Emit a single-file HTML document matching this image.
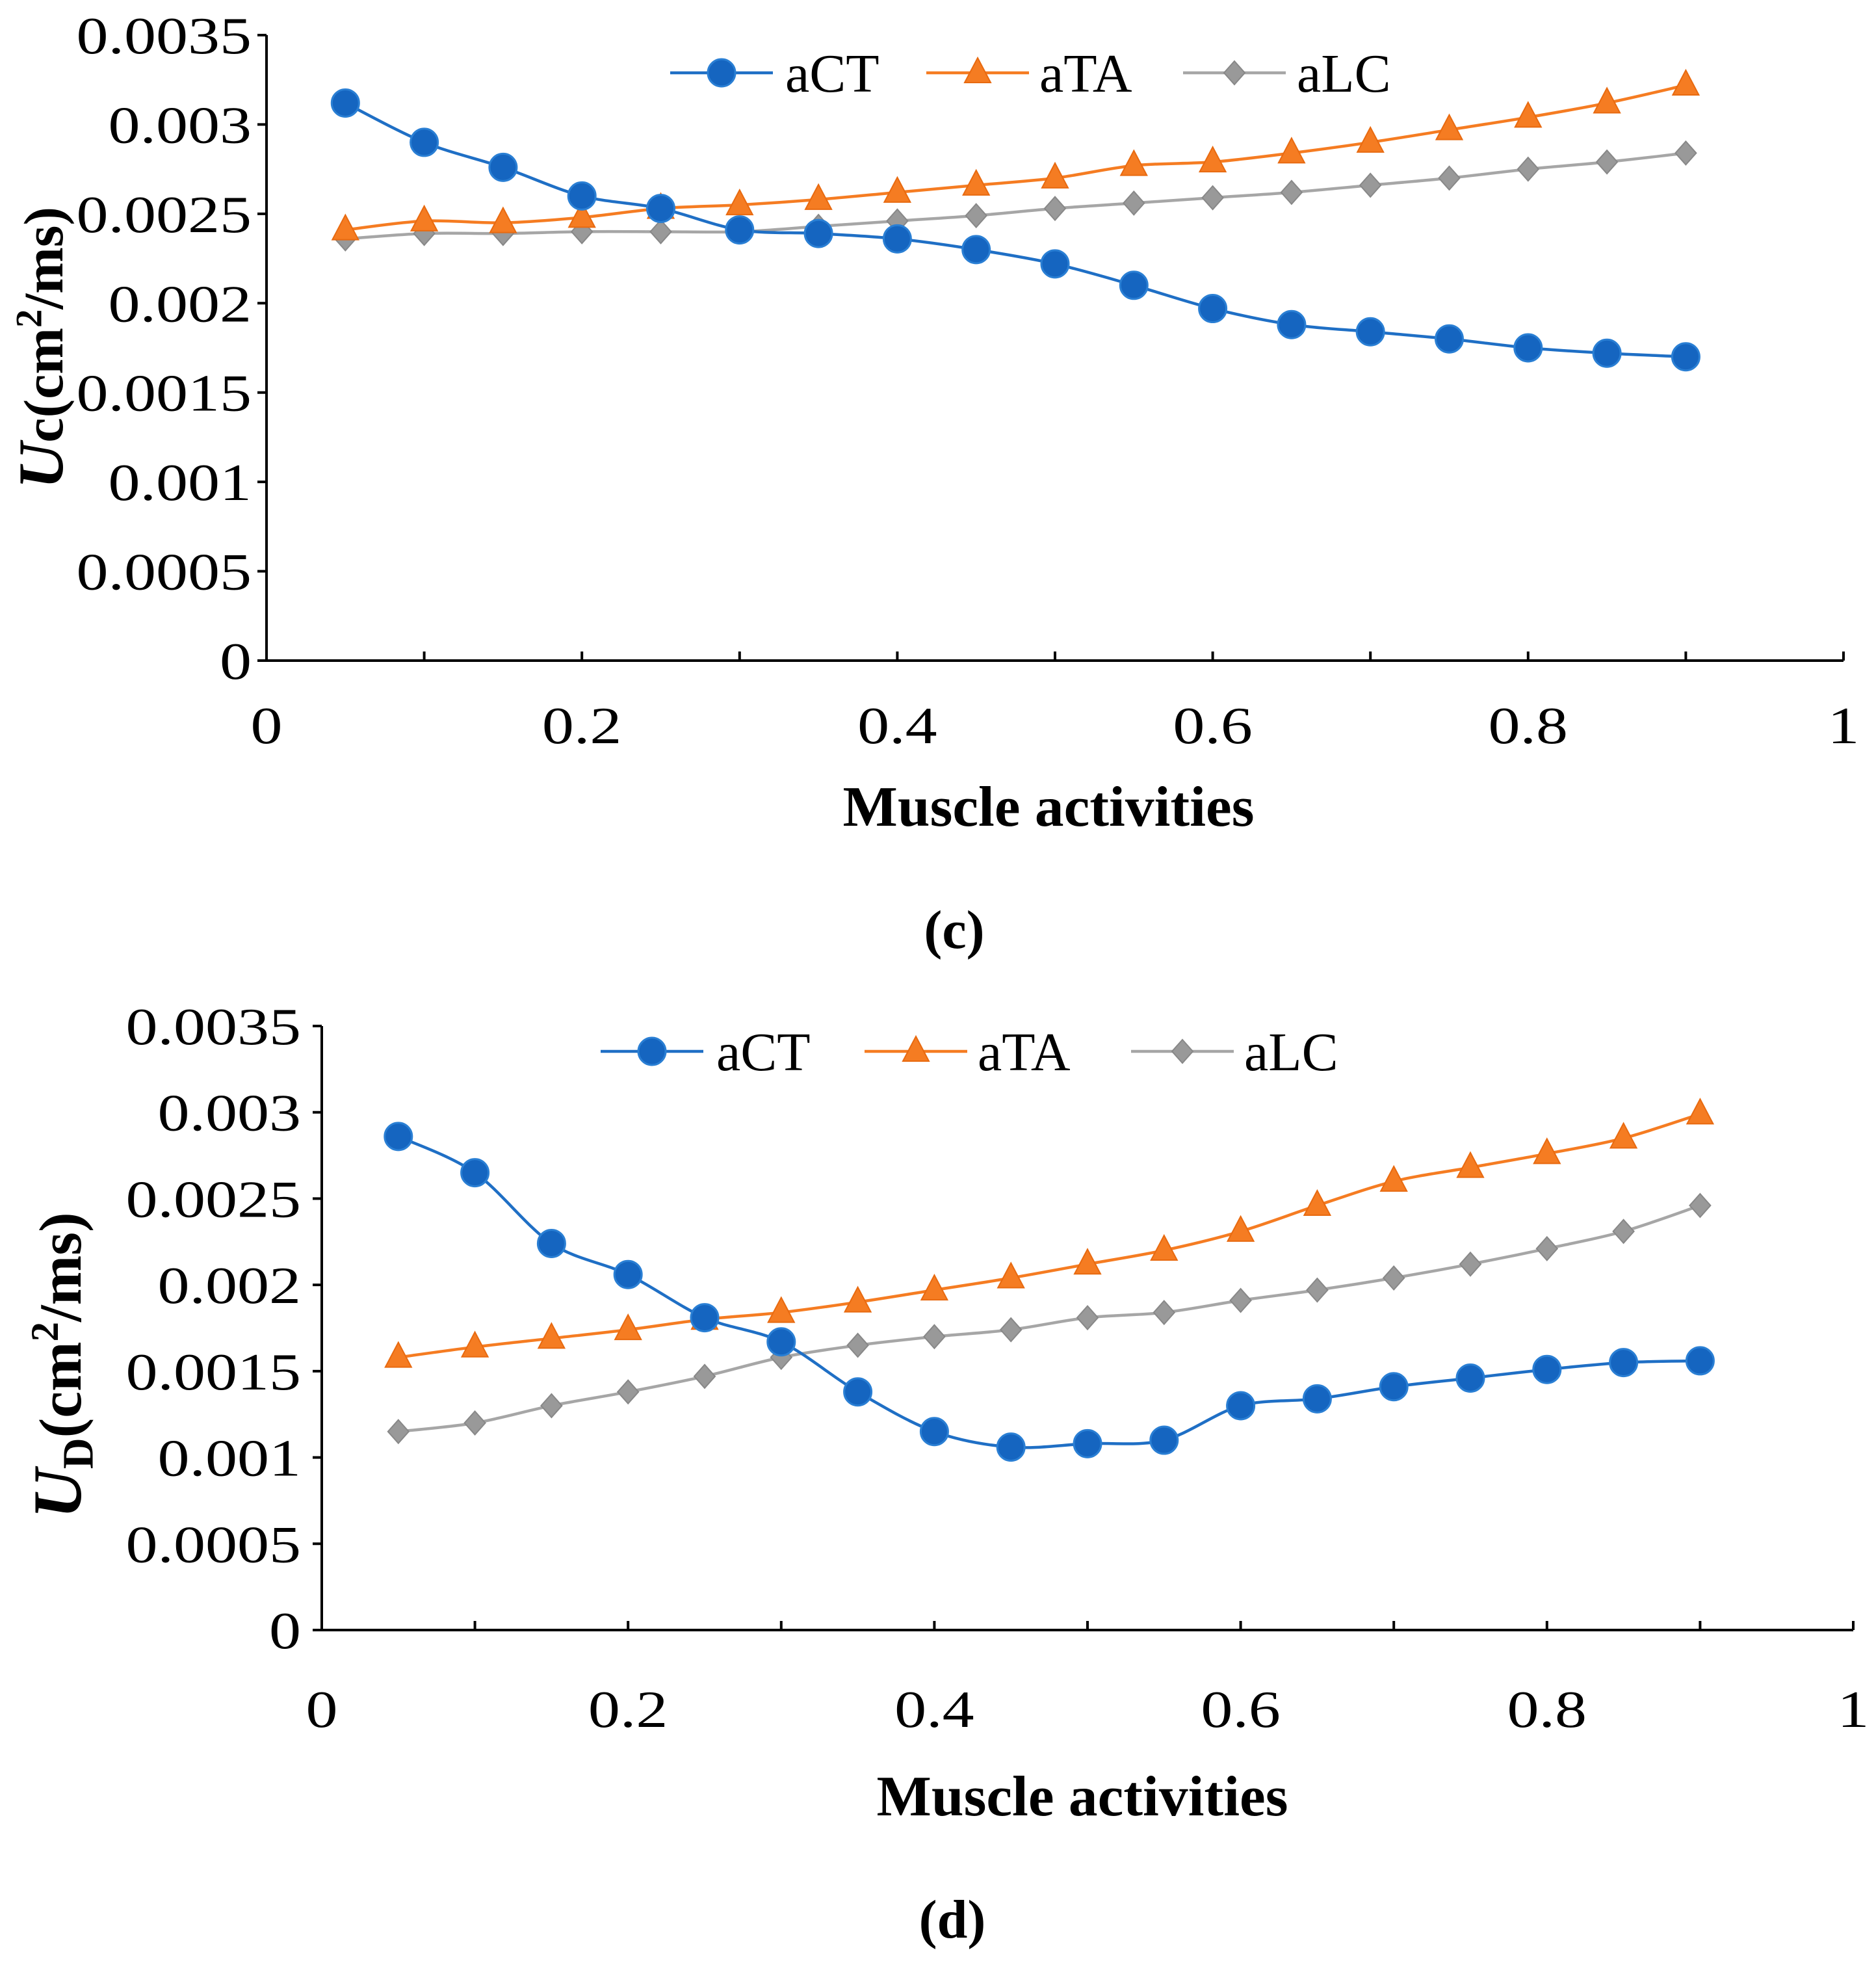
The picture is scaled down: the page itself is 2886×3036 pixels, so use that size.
<!DOCTYPE html>
<html><head><meta charset="utf-8"><style>
html,body{margin:0;padding:0;background:#fff;}
svg{display:block;}
text{font-family:"Liberation Serif",serif;fill:#000;}
</style></head><body>
<svg id="svg" width="2886" height="3036" viewBox="0 0 2886 3036" xmlns="http://www.w3.org/2000/svg"></svg>
<script>
const xCats=[0.05,0.1,0.15,0.2,0.25,0.3,0.35,0.4,0.45,0.5,0.55,0.6,0.65,0.7,0.75,0.8,0.85,0.9];
const yTicks=["0","0.0005","0.001","0.0015","0.002","0.0025","0.003","0.0035"];
const xTicks=["0","0.2","0.4","0.6","0.8","1"];
const cACT=[0.00312,0.0029,0.00276,0.0026,0.00253,0.00241,0.00239,0.00236,0.0023,0.00222,0.0021,0.00197,0.00188,0.00184,0.0018,0.00175,0.00172,0.0017];
const cATA=[0.00241,0.00246,0.00245,0.00248,0.00253,0.00255,0.00258,0.00262,0.00266,0.0027,0.00277,0.00279,0.00284,0.0029,0.00297,0.00304,0.00312,0.00322];
const cALC=[0.00236,0.00239,0.00239,0.0024,0.0024,0.0024,0.00243,0.00246,0.00249,0.00253,0.00256,0.00259,0.00262,0.00266,0.0027,0.00275,0.00279,0.00284];
const dACT=[0.00286,0.00265,0.00224,0.00206,0.00181,0.00167,0.00138,0.00115,0.00106,0.00108,0.0011,0.0013,0.00134,0.00141,0.00146,0.00151,0.00155,0.00156];
const dATA=[0.00158,0.00164,0.00169,0.00174,0.0018,0.00184,0.0019,0.00197,0.00204,0.00212,0.0022,0.00231,0.00246,0.0026,0.00268,0.00276,0.00285,0.00299];
const dALC=[0.00115,0.0012,0.0013,0.00138,0.00147,0.00158,0.00165,0.0017,0.00174,0.00181,0.00184,0.00191,0.00197,0.00204,0.00212,0.00221,0.00231,0.00246];

const NS="http://www.w3.org/2000/svg";
const svg=document.getElementById('svg');
function mk(tag,attrs,parent,txt){const e=document.createElementNS(NS,tag);for(const k in attrs)e.setAttribute(k,attrs[k]);if(txt!==undefined)e.textContent=txt;(parent||svg).appendChild(e);return e;}
function smooth(pts){let d="M"+pts[0][0]+","+pts[0][1];for(let i=0;i<pts.length-1;i++){const p0=pts[Math.max(0,i-1)],p1=pts[i],p2=pts[i+1],p3=pts[Math.min(pts.length-1,i+2)];const t=0.16;d+=" C"+(p1[0]+(p2[0]-p0[0])*t)+","+(p1[1]+(p2[1]-p0[1])*t)+" "+(p2[0]-(p3[0]-p1[0])*t)+","+(p2[1]-(p3[1]-p1[1])*t)+" "+p2[0]+","+p2[1];}return d;}
const COL={aCT:"#1f6fc5",aTA:"#f57c22",aLC:"#a6a6a6"};
function tlen(s,em){let w=0;for(const ch of s){w+=(ch==='.')?0.25:0.5;}return w*em;}
function marker(g,type,x,y){
 let e;
 if(type==="aCT"){e=mk('circle',{cx:x,cy:y,r:21,fill:"#1565c0",stroke:"#2a7fd4","stroke-width":3},g);}
 else if(type==="aTA"){e=mk('polygon',{points:`${x},${y-23} ${x+20},${y+15} ${x-20},${y+15}`,fill:"#f57c22",stroke:"#e86a10","stroke-width":2},g);}
 else {e=mk('polygon',{points:`${x},${y-18} ${x+16},${y} ${x},${y+18} ${x-16},${y}`,fill:"#999",stroke:"#888","stroke-width":2},g);}
 
 
 return e;
}
function chart(cfg){
 const g=mk('g',{});
 
 
 const X=v=>cfg.x0+(cfg.x1-cfg.x0)*v;
 const Y=v=>cfg.y0-(cfg.y0-cfg.yt)*v/0.0035;
 let a=mk('line',{x1:cfg.x0,y1:cfg.y0,x2:cfg.x1,y2:cfg.y0,stroke:"#000","stroke-width":4},g);
 
 a=mk('line',{x1:cfg.x0,y1:cfg.y0+2,x2:cfg.x0,y2:cfg.yt,stroke:"#000","stroke-width":4},g);
 
 yTicks.forEach((t)=>{const v=parseFloat(t);const y=Y(v);
  mk('line',{x1:cfg.x0-14,y1:y,x2:cfg.x0,y2:y,stroke:"#000","stroke-width":4},g);
  const e=mk('text',{x:cfg.ylx,y:y+28,"text-anchor":"end","font-size":80,textLength:tlen(t,98),lengthAdjust:"spacingAndGlyphs"},g,t);
  });
 for(let i=1;i<=10;i++){const x=X(i/10);mk('line',{x1:x,y1:cfg.y0,x2:x,y2:cfg.y0-14,stroke:"#000","stroke-width":4},g);}
 xTicks.forEach(t=>{const e=mk('text',{x:X(parseFloat(t)),y:cfg.xl,"text-anchor":"middle","font-size":80,textLength:tlen(t,98),lengthAdjust:"spacingAndGlyphs"},g,t);
  });
 let e=mk('text',{x:cfg.xtx,y:cfg.xt,"text-anchor":"middle","font-size":88,"font-weight":"bold",textLength:633,lengthAdjust:"spacingAndGlyphs"},g,"Muscle activities");
 
 const fs=cfg.tfs;
 e=mk('text',{transform:`translate(${cfg.ytx},${cfg.yty}) rotate(-90)`,"text-anchor":"middle","font-size":fs,"font-weight":"bold"},g);
 
 mk('tspan',{"font-style":"italic","font-size":fs*1.15},e,"U");
 mk('tspan',{"font-size":cfg.sub==="D"?fs*0.72:fs,dy:cfg.sub==="D"?fs*0.2:0},e,cfg.sub);
 mk('tspan',{dy:cfg.sub==="D"?-fs*0.2:0},e,"(cm");
 mk('tspan',{dy:-fs*0.38,"font-size":fs*0.66},e,"2");
 mk('tspan',{dy:fs*0.38},e,"/ms)");
 e=mk('text',{x:cfg.capx,y:cfg.capy,"text-anchor":"middle","font-size":84,"font-weight":"bold"},g,cfg.cap);
 
 [["aLC",cfg.lc],["aTA",cfg.ta],["aCT",cfg.ct]].forEach(([n,vals])=>{
  const sg=mk('g',{},g);
  
  
  const pts=xCats.map((c,i)=>[X(c),Y(vals[i])]);
  const p=mk('path',{d:smooth(pts),fill:"none",stroke:COL[n],"stroke-width":4.5},sg);
  
  pts.forEach(q=>marker(sg,n,q[0],q[1]));
 });
 const lg=mk('g',{},g);
 
 cfg.leg.forEach(([n,lx,tx])=>{
  const eg=mk('g',{},lg);
  
  
  mk('line',{x1:lx,y1:cfg.ly,x2:lx+158,y2:cfg.ly,stroke:COL[n],"stroke-width":4.5},eg);
  marker(eg,n,lx+79,cfg.ly);
  mk('text',{x:tx,y:cfg.ly+29,"font-size":84},eg,n);
 });
}
chart({name:'chart-c',x0:410,x1:2836,y0:1016,yt:54,ylx:387,xl:1143,xt:1270,xtx:1613,ytx:96,yty:535,tfs:86,sub:"c",cap:"(c)",capx:1468,capy:1458,
 ct:cACT,ta:cATA,lc:cALC,ly:112,leg:[["aCT",1031,1208],["aTA",1425,1599],["aLC",1820,1995]]});
chart({name:'chart-d',x0:495,x1:2851,y0:2507,yt:1578,ylx:463,xl:2656,xt:2792,xtx:1665,ytx:124,yty:2100,tfs:92,sub:"D",cap:"(d)",capx:1465,capy:2980,
 ct:dACT,ta:dATA,lc:dALC,ly:1617,leg:[["aCT",924,1102],["aTA",1330,1504],["aLC",1740,1914]]});
</script>
</body></html>
